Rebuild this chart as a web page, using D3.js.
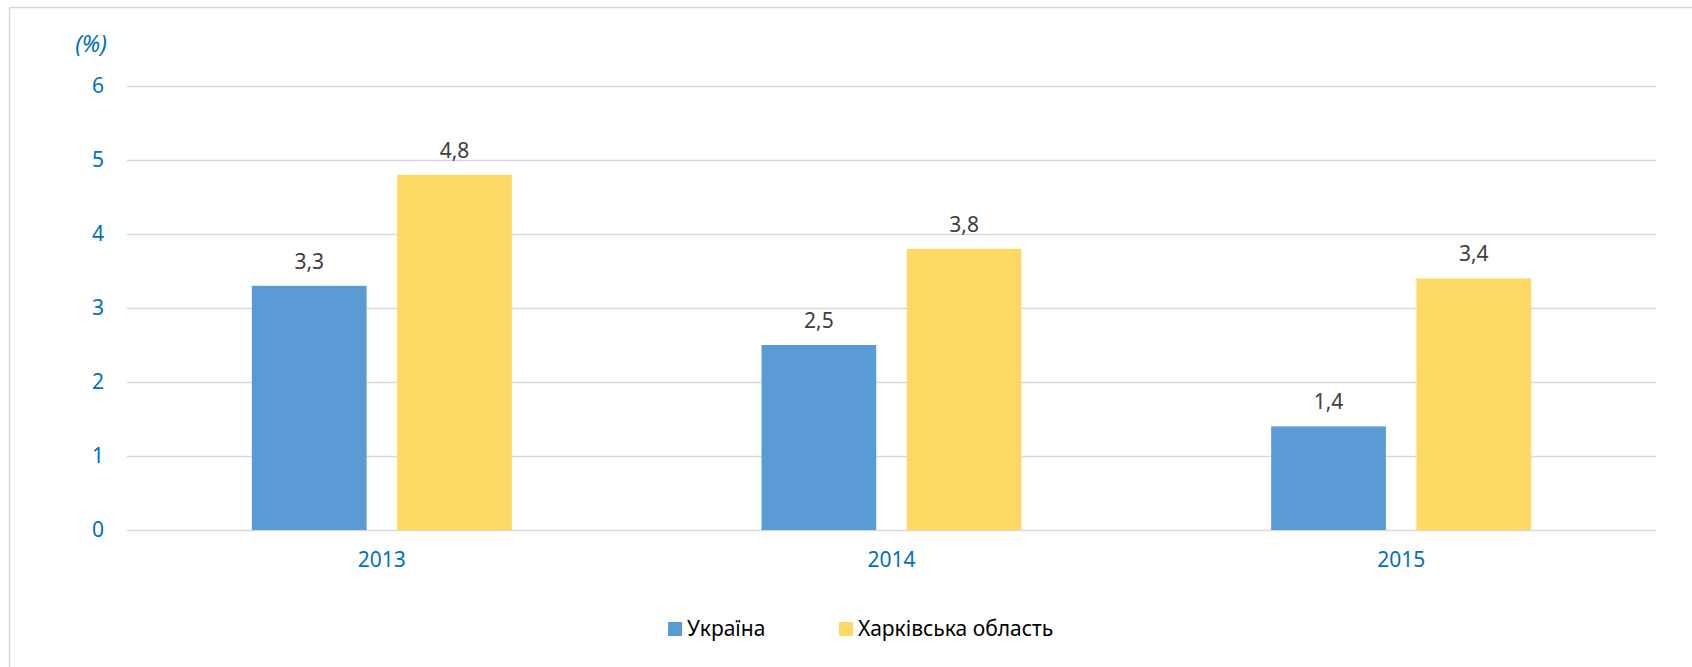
<!DOCTYPE html>
<html>
<head>
<meta charset="utf-8">
<script src="https://cdn.jsdelivr.net/npm/d3@7"></script>
<style>
    body { margin: 0; background: #fff; }
    text { font-family: "Noto Sans", "Open Sans", sans-serif; }
</style>
</head>
<body>
<div id="chart"></div>
<script>
// Chart data
const years = ["2013", "2014", "2015"];
const series = ["Україна", "Харківська область"];
const ukraine = [3.3, 2.5, 1.4];
const kharkiv = [4.8, 3.8, 3.4];
const yTicks = [0, 1, 2, 3, 4, 5, 6];
const colors = ["#5B9BD5", "#FFD966"];

const values = [ukraine, kharkiv];

// Dimensions
const W = 1692, H = 667;
const margin = {top: 86, right: 36, bottom: 137, left: 127};
const width = W - margin.left - margin.right;
const height = H - margin.top - margin.bottom;

const svg = d3.select("#chart")
    .append("svg")
    .attr("width", W)
    .attr("height", H);

// Frame around the chart area
svg.append("rect")
    .attr("x", 9.5)
    .attr("y", 7.5)
    .attr("width", W + 20)
    .attr("height", H + 20)
    .attr("fill", "none")
    .attr("stroke", "#D9D9D9")
    .attr("stroke-width", 1.5);

const g = svg.append("g")
    .attr("transform", "translate(" + margin.left + "," + margin.top + ")");

// Scales
const x0 = d3.scaleBand().domain(years).range([0, width]);
const groupW = 260;
const x1 = d3.scaleBand().domain(series)
    .range([(x0.bandwidth() - groupW) / 2, (x0.bandwidth() + groupW) / 2])
    .paddingInner(0.21);
const y = d3.scaleLinear().domain([0, 6]).range([height, 0]);

// Gridlines
g.append("g")
    .selectAll("line")
    .data(yTicks)
    .join("line")
    .attr("x1", 0)
    .attr("x2", width)
    .attr("y1", d => y(d) + 0.5)
    .attr("y2", d => y(d) + 0.5)
    .attr("stroke", "#D9D9D9")
    .attr("stroke-width", 1.5);

// Y axis labels
const yAxis = d3.axisLeft(y).tickValues(yTicks).tickFormat(d3.format("d"))
    .tickSize(0).tickPadding(23);
g.append("g")
    .call(yAxis)
    .call(s => s.select(".domain").remove())
    .call(s => s.selectAll("text")
        .attr("fill", "#0070C0")
        .style("font-size", "21px"));

// Unit label
svg.append("text")
    .attr("x", 91)
    .attr("y", 52)
    .attr("text-anchor", "middle")
    .attr("fill", "#0070C0")
    .style("font-size", "23px")
    .style("font-style", "italic")
    .text("(%)");

// X axis labels
const xAxis = d3.axisBottom(x0).tickSize(0).tickPadding(22);
g.append("g")
    .attr("transform", "translate(0," + height + ")")
    .call(xAxis)
    .call(s => s.select(".domain").remove())
    .call(s => s.selectAll("text")
        .attr("fill", "#0070C0")
        .style("font-size", "21px"));

// Bars
const groups = g.selectAll(".year")
    .data(years)
    .join("g")
    .attr("class", "year")
    .attr("transform", d => "translate(" + x0(d) + ",0)");

groups.selectAll("rect")
    .data((d, i) => series.map((s, j) => ({s, j, v: values[j][i]})))
    .join("rect")
    .attr("x", d => x1(d.s))
    .attr("width", x1.bandwidth())
    .attr("y", d => y(d.v))
    .attr("height", d => height - y(d.v))
    .attr("fill", d => colors[d.j]);

// Data labels
groups.selectAll(".label")
    .data((d, i) => series.map((s, j) => ({s, j, v: values[j][i]})))
    .join("text")
    .attr("class", "label")
    .attr("x", d => x1(d.s) + x1.bandwidth() / 2)
    .attr("y", d => y(d.v) - 17)
    .attr("text-anchor", "middle")
    .attr("fill", "#404040")
    .style("font-size", "21px")
    .text(d => String(d.v).replace(".", ","));

// Legend
const legendX = [668, 839];
const legend = svg.selectAll(".legend")
    .data(series)
    .join("g")
    .attr("class", "legend")
    .attr("transform", (d, i) => "translate(" + legendX[i] + ",622)");

legend.append("rect")
    .attr("width", 14)
    .attr("height", 14)
    .attr("fill", (d, i) => colors[i]);

legend.append("text")
    .attr("x", 19)
    .attr("y", 14)
    .attr("fill", "#000")
    .style("font-size", "21px")
    .text(d => d);
</script>
</body>
</html>
